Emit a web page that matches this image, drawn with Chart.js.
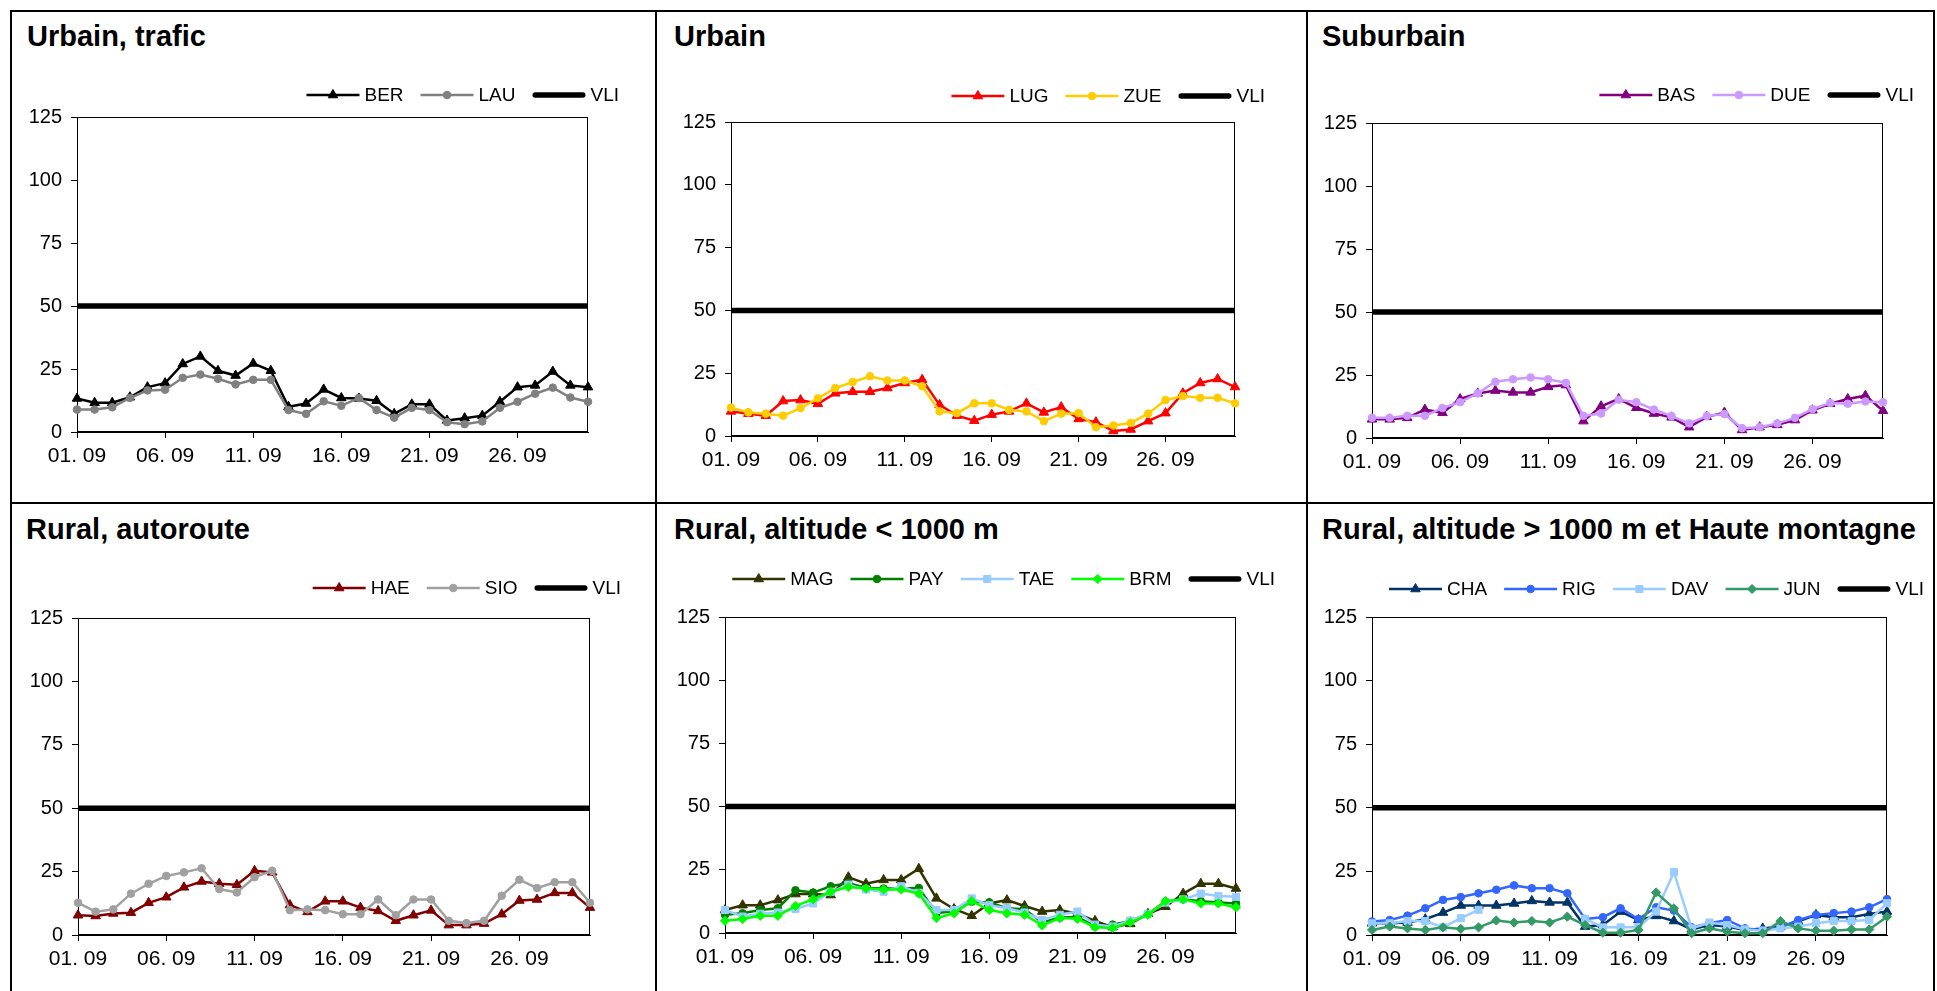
<!DOCTYPE html>
<html>
<head>
<meta charset="utf-8">
<title>Moyennes journalières</title>
<script src="https://cdn.jsdelivr.net/npm/chart.js@4.4.1/dist/chart.umd.min.js"></script>
<style>
  html, body { margin: 0; padding: 0; background: #fff; }
  body { width: 1937px; height: 991px; position: relative; overflow: hidden;
         font-family: "Liberation Sans", Arial, sans-serif; }
  .rule { position: absolute; background: #000; }
  .title { position: absolute; font-weight: bold; font-size: 29px; line-height: 29px;
           white-space: nowrap; color: #000; }
  canvas { position: absolute; }
</style>
</head>
<body>
<div class="rule" style="left:10px;top:10px;width:1925px;height:2px"></div>
<div class="rule" style="left:10px;top:502px;width:1925px;height:2px"></div>
<div class="rule" style="left:10px;top:10px;width:2px;height:990px"></div>
<div class="rule" style="left:655px;top:10px;width:2px;height:990px"></div>
<div class="rule" style="left:1306px;top:10px;width:2px;height:990px"></div>
<div class="rule" style="left:1933px;top:10px;width:2px;height:990px"></div>

<script>
// --- data (µg/m3, daily means, September) ---
const dates = ["01. 09","02. 09","03. 09","04. 09","05. 09","06. 09","07. 09","08. 09","09. 09","10. 09",
               "11. 09","12. 09","13. 09","14. 09","15. 09","16. 09","17. 09","18. 09","19. 09","20. 09",
               "21. 09","22. 09","23. 09","24. 09","25. 09","26. 09","27. 09","28. 09","29. 09","30. 09"];
const yTicks = [0, 25, 50, 75, 100, 125];
const VLI = [50,50,50,50,50,50,50,50,50,50,50,50,50,50,50,50,50,50,50,50,50,50,50,50,50,50,50,50,50,50];

// Urbain, trafic
const BER = [13.3,11.6,11.6,13.8,17.8,19.4,27,30,24.3,22.4,27.2,24.3,10,11.3,16.9,13.5,13.3,12.4,7.2,11,11,4.6,5.5,6.5,12,17.8,18.5,24,18.5,17.8];
const LAU = [8.9,8.9,9.8,13.5,16.5,16.8,21.5,22.8,21.1,18.9,20.7,20.7,8.7,7.2,12.2,10.4,13.5,8.7,5.7,9.6,8.7,3.9,3.1,4.2,9.6,12,15.2,17.6,13.7,12];
// Urbain
const LUG = [9.8,8.9,8.1,13.9,14.3,12.8,17,17.6,17.6,19.1,21.1,22.4,12.4,8.1,6.1,8.5,9.8,13,9.4,11.5,6.8,5.5,2,2.6,5.9,9.1,17,21.1,22.7,19.5];
const ZUE = [11.3,9.4,8.9,8.1,11.1,15,19.1,21.5,23.8,22.1,22.1,19.8,9.8,9.1,13,13,10.4,9.8,5.9,8.9,9.1,3.5,4.2,5.2,8.9,14.3,15.9,15.2,15.2,13];
// Suburbain
const BAS = [7.4,7.4,8,11.3,10,15.5,17.7,18.8,18.1,18.1,20.3,21,6.7,12.6,15.5,12,9.7,8.2,4.3,8.4,10.1,3.2,4.3,5.2,7.1,11,13.6,15.5,16.8,10.8];
const DUE = [8,8,8.8,8.8,11.9,14.2,17.7,22.3,23.3,24,23.3,21.9,8.8,9.7,15.2,14.2,11.3,8.7,5.8,8.7,9.5,3.9,4.3,5.8,8,11.5,13.9,13.6,14.5,14.2];
// Rural, autoroute
const HAE = [7.8,7.5,8.5,8.8,12.7,14.9,18.8,21.1,20.2,19.8,25.3,24.7,11.8,9.1,13.3,13.3,10.8,9.5,5.6,7.8,9.7,3.9,3.9,4.5,8.2,13.6,14,16.6,16.6,10.8];
const SIO = [12.7,9.2,10.1,16.3,20.2,23.3,24.7,26.3,18.1,16.8,22.8,25.3,9.8,10.1,9.8,8.2,8.2,14,7.8,14,14,5.6,4.7,5.6,15.5,21.8,18.5,20.8,20.8,12.7];
// Rural, altitude < 1000 m
const MAG = [9.1,11,11,13,15.4,15.4,15,22.1,19.5,21,21,25.4,13.7,9.5,6.8,11.7,13,10.7,8.5,9.1,7.6,4.8,2.3,3.6,7.6,10.4,15.6,19.5,19.5,17.6];
const PAY = [7.2,7.8,9.1,9.8,16.9,16,18.5,19.8,17.8,17.6,17.6,17.8,7.8,8.7,12.4,12.1,9.8,9.4,4.2,6.1,6.3,2.6,3.3,4.8,7.6,12.4,13.3,12.6,12.1,11.7];
const TAE = [9.1,6.5,7.6,8.1,9.5,11.7,16.3,19.1,17.2,16.3,18.5,15.9,9.1,9.1,13.7,11,9.8,8.1,5.2,7.2,8.5,3.3,2.6,4.9,7.6,12,13.3,15.6,14.6,14.3];
const BRM = [4.8,5.5,6.8,6.8,10.7,13.3,16.3,18.2,17.6,17.2,17.2,15.6,5.9,7.8,12.6,9.1,7.8,7.2,3,5.9,5.6,2.3,2,4.2,7.2,12.6,13.3,11.7,11.7,10.2];
// Rural, altitude > 1000 m et Haute montagne
const CHA = [4.6,4.6,4.9,6.2,8.8,11.6,11.6,11.6,12.4,13.4,12.8,12.8,3.3,3.9,9.2,5.9,7.5,5.5,2.2,3.9,3.3,2,2.6,3.3,5.3,7.9,7,7,8.3,9.2];
const RIG = [5.3,5.9,7.6,10.5,13.8,14.9,16.4,17.8,19.5,18.4,18.4,16.4,6.3,7,10.5,6.3,10.9,9.6,3,4.6,5.9,2.6,2,3,5.9,7.9,8.6,9.2,10.9,14.1];
const DAV = [4.6,4.6,5.5,5.5,3,6.6,9.9,null,null,null,null,null,6.3,3,3,3,9.2,24.7,2.6,4.9,3.9,2.2,1.7,2.6,3.3,4.6,5.5,5.5,5.9,12.5];
const JUN = [2,3.3,2.6,2,3,2.4,3,5.7,4.9,5.5,4.9,7.2,3.9,0.9,0.9,2,16.7,10.5,0.7,2.6,1.3,0.7,0.7,5.5,2.6,1.7,1.7,2.2,2.2,7.2];

const FONT = "'Liberation Sans', Arial, sans-serif";

// panels: box = canvas cell, plot = chart area (page px), legend = right end + centre line
const panels = [
  { title: "Urbain, trafic", titleAt: [27, 22],
    box: { x: 12, y: 12, w: 643, h: 490 }, plot: { l: 77, r: 588, t: 117, b: 432 }, legend: { right: 619, y: 95 },
    series: [
      { label: "BER", data: BER, color: "#000000", marker: "triangle" },
      { label: "LAU", data: LAU, color: "#808080", marker: "circle" }
    ] },
  { title: "Urbain", titleAt: [674, 22],
    box: { x: 657, y: 12, w: 649, h: 490 }, plot: { l: 731, r: 1235, t: 122, b: 436 }, legend: { right: 1265, y: 96 },
    series: [
      { label: "LUG", data: LUG, color: "#ff0000", marker: "triangle" },
      { label: "ZUE", data: ZUE, color: "#ffcc00", marker: "circle" }
    ] },
  { title: "Suburbain", titleAt: [1322, 22],
    box: { x: 1308, y: 12, w: 625, h: 490 }, plot: { l: 1372, r: 1883, t: 123, b: 438 }, legend: { right: 1914, y: 95 },
    series: [
      { label: "BAS", data: BAS, color: "#800080", marker: "triangle" },
      { label: "DUE", data: DUE, color: "#cc99ff", marker: "circle" }
    ] },
  { title: "Rural, autoroute", titleAt: [26, 515],
    box: { x: 12, y: 504, w: 643, h: 487 }, plot: { l: 78, r: 590, t: 618, b: 935 }, legend: { right: 621, y: 588 },
    series: [
      { label: "HAE", data: HAE, color: "#800000", marker: "triangle" },
      { label: "SIO", data: SIO, color: "#a0a0a0", marker: "circle" }
    ] },
  { title: "Rural, altitude < 1000 m", titleAt: [674, 515],
    box: { x: 657, y: 504, w: 649, h: 487 }, plot: { l: 725, r: 1236, t: 617, b: 933 }, legend: { right: 1275, y: 579 },
    series: [
      { label: "MAG", data: MAG, color: "#333300", marker: "triangle" },
      { label: "PAY", data: PAY, color: "#008000", marker: "circle" },
      { label: "TAE", data: TAE, color: "#99ccff", marker: "rect" },
      { label: "BRM", data: BRM, color: "#00ff00", marker: "rectRot" }
    ] },
  { title: "Rural, altitude > 1000 m et Haute montagne", titleAt: [1322, 515],
    box: { x: 1308, y: 504, w: 625, h: 487 }, plot: { l: 1372, r: 1887, t: 617, b: 935 }, legend: { right: 1924, y: 589 },
    series: [
      { label: "CHA", data: CHA, color: "#003366", marker: "triangle" },
      { label: "RIG", data: RIG, color: "#3366ff", marker: "circle" },
      { label: "DAV", data: DAV, color: "#99ccff", marker: "rect" },
      { label: "JUN", data: JUN, color: "#339966", marker: "rectRot" }
    ] }
];

const markerSize = { triangle: 5.5, circle: 3.8, rect: 5, rectRot: 4.6 };

// draws a marker like Chart.js does (used for the legend samples)
function drawMarker(ctx, style, x, y, r) {
  ctx.beginPath();
  if (style === "triangle") {
    ctx.moveTo(x, y - r);
    ctx.lineTo(x + r * 0.866, y + r * 0.5);
    ctx.lineTo(x - r * 0.866, y + r * 0.5);
  } else if (style === "rect") {
    const s = r * Math.SQRT1_2;
    ctx.rect(x - s, y - s, 2 * s, 2 * s);
  } else if (style === "rectRot") {
    ctx.moveTo(x, y - r); ctx.lineTo(x + r, y); ctx.lineTo(x, y + r); ctx.lineTo(x - r, y);
  } else {
    ctx.arc(x, y, r, 0, Math.PI * 2);
  }
  ctx.closePath();
  ctx.fill();
  ctx.stroke();
}

// Excel-like legend: line sample with marker, then the name, right aligned
const lineLegend = {
  id: "lineLegend",
  afterDraw(chart, args, opts) {
    const ctx = chart.ctx;
    const sets = chart.data.datasets;
    ctx.save();
    ctx.font = opts.font;
    ctx.textBaseline = "middle";
    let total = 0;
    sets.forEach((ds, i) => {
      total += opts.lineLen + opts.textGap + ctx.measureText(ds.label).width;
      if (i > 0) total += opts.itemGap;
    });
    let x = opts.right - total;
    const y = opts.y;
    sets.forEach(ds => {
      ctx.strokeStyle = ds.borderColor;
      ctx.lineWidth = ds.borderWidth;
      ctx.lineCap = ds.pointRadius ? "butt" : "round";
      const inset = ds.pointRadius ? 0 : ds.borderWidth / 2;
      ctx.beginPath();
      ctx.moveTo(x + inset, y);
      ctx.lineTo(x + opts.lineLen - inset, y);
      ctx.stroke();
      if (ds.pointRadius) {
        ctx.fillStyle = ds.borderColor;
        ctx.lineWidth = 1;
        drawMarker(ctx, ds.pointStyle, x + opts.lineLen / 2, y, ds.pointRadius);
      }
      x += opts.lineLen + opts.textGap;
      ctx.fillStyle = "#000";
      ctx.fillText(ds.label, x, y + 1);
      x += ctx.measureText(ds.label).width + opts.itemGap;
    });
    ctx.restore();
  }
};

// thin box round the plot area
const plotFrame = {
  id: "plotFrame",
  beforeDatasetsDraw(chart) {
    const { ctx, chartArea: a } = chart;
    ctx.save();
    ctx.strokeStyle = "#000";
    ctx.lineWidth = 1;
    ctx.strokeRect(Math.round(a.left) + 0.5, Math.round(a.top) + 0.5,
                   Math.round(a.right - a.left) - 1, Math.round(a.bottom - a.top) - 1);
    ctx.restore();
  }
};

function buildPanel(p) {
  const t = document.createElement("div");
  t.className = "title";
  t.textContent = p.title;
  t.style.left = p.titleAt[0] + "px";
  t.style.top = p.titleAt[1] + "px";
  document.body.appendChild(t);

  const cv = document.createElement("canvas");
  cv.width = p.box.w;
  cv.height = p.box.h;
  cv.style.left = p.box.x + "px";
  cv.style.top = p.box.y + "px";
  document.body.appendChild(cv);

  const yAxisW = p.plot.l - p.box.x;
  const xAxisH = p.box.y + p.box.h - p.plot.b;
  const n = p.series.length;

  const datasets = p.series.map((s, i) => ({
    label: s.label,
    data: s.data,
    borderColor: s.color,
    backgroundColor: s.color,
    pointBackgroundColor: s.color,
    pointBorderColor: s.color,
    pointStyle: s.marker,
    pointRadius: markerSize[s.marker],
    pointBorderWidth: 1,
    borderWidth: 2.5,
    tension: 0,
    spanGaps: false,
    clip: false,
    order: n - i + 1
  }));
  datasets.push({
    label: "VLI", data: VLI, borderColor: "#000", backgroundColor: "#000",
    borderWidth: 5.5, pointRadius: 0, pointHoverRadius: 0, clip: false, order: 0
  });

  new Chart(cv, {
    type: "line",
    data: { labels: dates, datasets: datasets },
    plugins: [plotFrame, lineLegend],
    options: {
      responsive: false,
      animation: false,
      events: [],
      layout: { padding: { left: 0, bottom: 0, top: p.plot.t - p.box.y, right: p.box.x + p.box.w - p.plot.r } },
      scales: {
        x: {
          type: "category",
          offset: false,
          grid: {
            drawOnChartArea: false, tickLength: 6, lineWidth: 1,
            tickColor: c => (c.index % 5 === 0 ? "#000" : "rgba(0,0,0,0)")
          },
          border: { color: "#000", width: 1 },
          ticks: {
            autoSkip: false, maxRotation: 0, minRotation: 0, padding: 6, color: "#000",
            font: { family: FONT, size: 21 },
            callback: (v, i) => (i % 5 === 0 ? dates[i] : "")
          },
          afterFit: s => { s.height = xAxisH; }
        },
        y: {
          min: yTicks[0],
          max: yTicks[yTicks.length - 1],
          afterBuildTicks: s => { s.ticks = yTicks.map(v => ({ value: v })); },
          grid: { drawOnChartArea: false, tickLength: 6, color: "#000" },
          border: { color: "#000", width: 1 },
          ticks: { padding: 9, color: "#000", font: { family: FONT, size: 20 } },
          afterFit: s => { s.width = yAxisW; }
        }
      },
      plugins: {
        legend: { display: false },
        tooltip: { enabled: false },
        lineLegend: {
          right: p.legend.right - p.box.x,
          y: p.legend.y - p.box.y,
          font: "19px " + FONT,
          lineLen: 53, textGap: 5, itemGap: 17
        }
      }
    }
  });
}

panels.forEach(buildPanel);
</script>
</body>
</html>
